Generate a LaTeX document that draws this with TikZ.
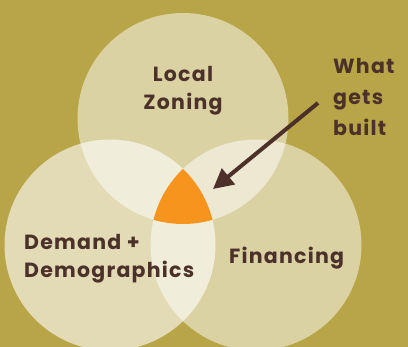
\documentclass[tikz,border=0pt]{standalone}
\usepackage{fontspec}
\setmainfont{Poppins}[LetterSpace=6]
\usetikzlibrary{arrows.meta}

\definecolor{olive}{HTML}{B8A547}
\definecolor{umber}{HTML}{4B3129}
\definecolor{tangerine}{HTML}{F7941E}

\tikzset{
  venn/.style={fill=white, fill opacity=0.5},
  label/.style={text=umber, font=\bfseries\fontsize{20.5}{28}\selectfont, inner sep=0pt},
}

\begin{document}
\begin{tikzpicture}[x=1pt,y=-1pt]

% ---------- Parameter ----------
\def\r{105.5}
\coordinate (ctop)   at (183,118.5);
\coordinate (cleft)  at (110,245);
\coordinate (cright) at (256,245);

% Hintergrund
\fill[olive] (0,0) rectangle (408,347);
\useasboundingbox (0,0) rectangle (408,347);

% ===================
% drei Kreise
% ===================
\fill[venn] (ctop) circle (\r);
\fill[venn, fill opacity=0.6] (cleft) circle (\r);
\fill[venn] (cright) circle (\r);

% Schnittmenge aller drei
\begin{scope}
  \clip (ctop) circle (\r);
  \clip (cleft) circle (\r);
  \fill[tangerine] (cright) circle (\r);
\end{scope}

% Beschriftungen
\node[label, align=center] (zoning) at (183,91) {Local\\Zoning};
\node[label, align=left, anchor=west] (demand) at (24,259) {Demand +\\Demographics};
\node[label, anchor=west] (finance) at (229,258) {Financing};
\node[label, align=left, anchor=west, font=\bfseries\fontsize{20.5}{31}\selectfont] (built) at (333,97) {What\\gets\\built};

% Pfeil
\coordinate (tail) at (318,103);
\coordinate (tip)  at (213,189);
\draw[umber, line width=4pt, -{Triangle[length=20pt,width=20pt]}] (tail) -- (tip);

\end{tikzpicture}
\end{document}
